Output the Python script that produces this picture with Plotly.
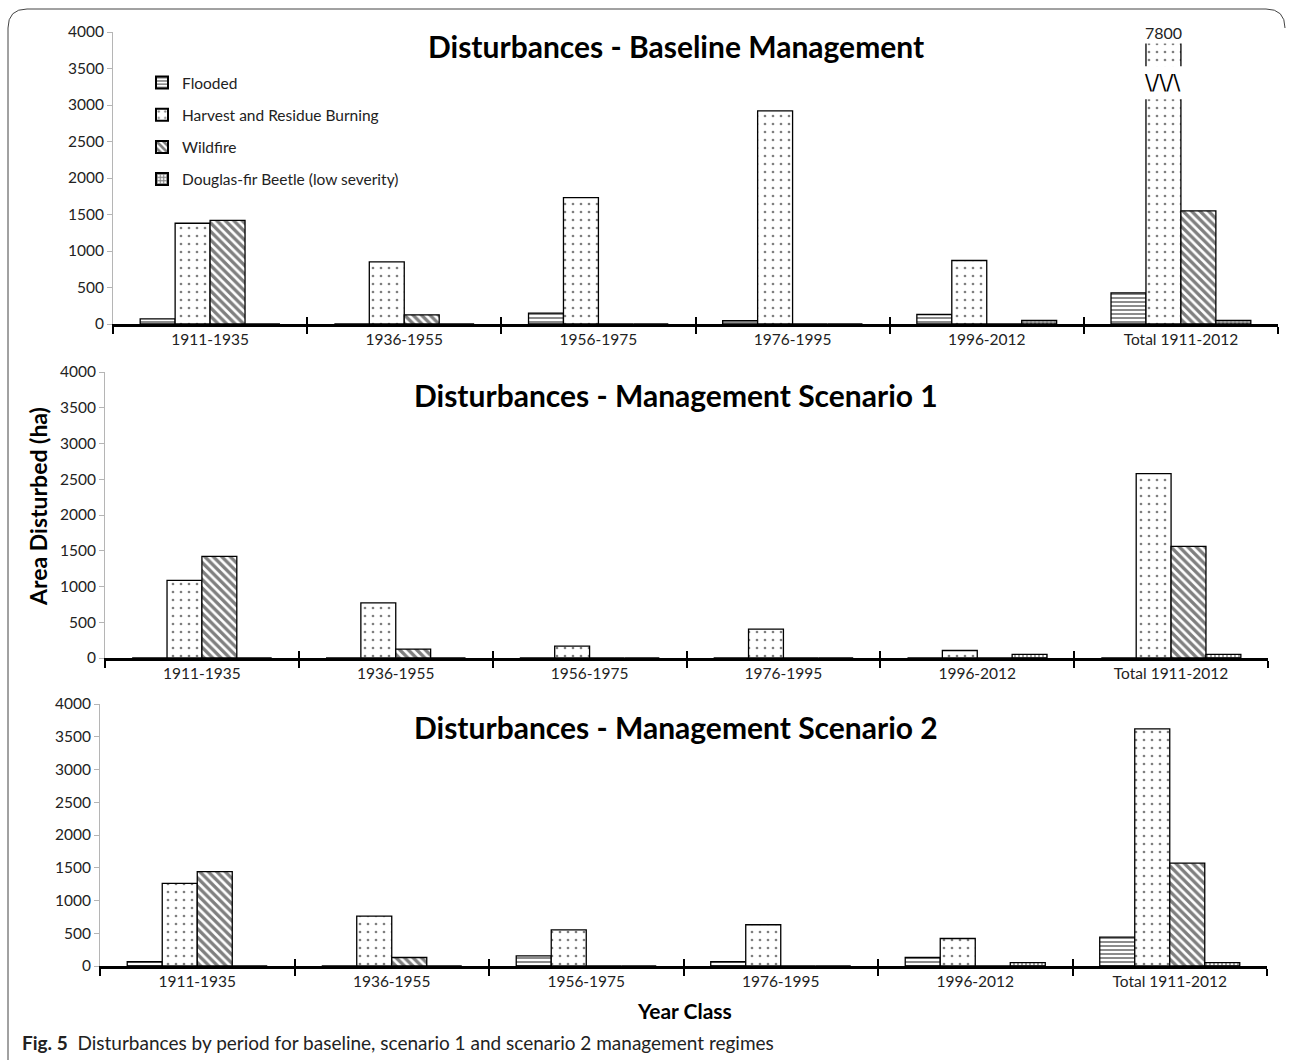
import plotly.graph_objects as go

W, H = 1292, 1063

categories = ["1911-1935", "1936-1955", "1956-1975", "1976-1995", "1996-2012", "Total 1911-2012"]
series_names = ["Flooded", "Harvest and Residue Burning", "Wildfire", "Douglas-fir Beetle (low severity)"]

# Baseline management
base_flooded = [70, 0, 150, 45, 130, 425]
base_harvest = [1380, 850, 1730, 2920, 870, 7800]
base_wildfire = [1420, 125, 0, 0, 0, 1550]
base_beetle = [0, 0, 0, 0, 50, 50]

# Management scenario 1
s1_flooded = [0, 0, 0, 0, 0, 0]
s1_harvest = [1085, 770, 165, 405, 105, 2580]
s1_wildfire = [1420, 125, 0, 0, 0, 1560]
s1_beetle = [0, 0, 0, 0, 50, 50]

# Management scenario 2
s2_flooded = [65, 0, 155, 65, 130, 440]
s2_harvest = [1260, 760, 550, 630, 420, 3620]
s2_wildfire = [1440, 130, 0, 0, 0, 1570]
s2_beetle = [0, 0, 0, 0, 50, 50]

panel_titles = ["Disturbances - Baseline Management",
                "Disturbances - Management Scenario 1",
                "Disturbances - Management Scenario 2"]
y_ticks = [0, 500, 1000, 1500, 2000, 2500, 3000, 3500, 4000]
break_label = "7800"

patterns = [dict(shape="-", size=4, solidity=0.45),
            dict(shape=".", size=8, solidity=0.09),
            dict(shape="\\", size=6, solidity=0.55),
            dict(shape="+", size=4, solidity=0.6)]

def px(x):
    return x / W

def py(y):
    return 1 - y / H

# panel geometry in pixels: (x0, x1, ytop(4000), ybottom(0))
panels = [(113, 1278, 32, 324), (105, 1268, 372, 658), (100, 1267, 704, 966)]
data = [
    [base_flooded, base_harvest, base_wildfire, base_beetle],
    [s1_flooded, s1_harvest, s1_wildfire, s1_beetle],
    [s2_flooded, s2_harvest, s2_wildfire, s2_beetle],
]

FONT = "Lato"
fig = go.Figure()
BARGAP = 0.28

for p, (vals, geo) in enumerate(zip(data, panels)):
    xa = "x" if p == 0 else f"x{p+1}"
    ya = "y" if p == 0 else f"y{p+1}"
    for s, name in enumerate(series_names):
        fig.add_trace(go.Bar(
            x=categories, y=vals[s], name=name, xaxis=xa, yaxis=ya,
            showlegend=(p == 0), legendgroup=f"g{s}",
            marker=dict(color="white", line=dict(color="black", width=1.3),
                        pattern=dict(fgcolor="black", bgcolor="white", **patterns[s])),
        ))
    x0, x1, yt, yb = geo
    key = "" if p == 0 else str(p + 1)
    fig.layout["xaxis" + key] = dict(
        domain=[px(x0), px(x1)], anchor=ya, type="category", automargin=False,
        showline=True, linecolor="black", linewidth=2.5,
        ticks="outside", tickson="boundaries", ticklen=7, tickwidth=2, tickcolor="black",
        tickfont=dict(family=FONT, size=15.5, color="#222"), showgrid=False, zeroline=False,
    )
    fig.layout["yaxis" + key] = dict(
        domain=[py(yb), py(yt)], anchor=xa, range=[0, 4000], tickvals=y_ticks, automargin=False,
        showline=True, linecolor="#b5b5b5", linewidth=1, ticks="outside", ticklen=5,
        tickcolor="#b5b5b5", tickfont=dict(family=FONT, size=15.5, color="#222"),
        showgrid=False, zeroline=False,
    )
    # inner half of crossing ticks via overlay axis
    okey = str(p + 4)
    fig.layout["xaxis" + okey] = dict(
        domain=[px(x0), px(x1)], anchor=ya, overlaying=xa, type="category", automargin=False,
        categoryarray=categories, categoryorder="array", range=[-0.5, 5.5],
        ticks="inside", tickson="boundaries", ticklen=7, tickwidth=2, tickcolor="black",
        showticklabels=False, showline=False, showgrid=False, zeroline=False,
    )
    fig.add_trace(go.Scatter(x=categories, y=[None]*6, xaxis="x" + okey, yaxis=ya,
                             showlegend=False, hoverinfo="skip"))
    fig.add_annotation(text=f"<b>{panel_titles[p]}</b>", xref="paper", yref="paper",
                       x=px(676), y=py(yt + 14 if p == 0 else yt + 23), xanchor="center", yanchor="middle",
                       showarrow=False, font=dict(family=FONT, size=30, color="black"))

# axis break on baseline total harvest bar
half = (1 - BARGAP) / 4
bx0 = 5 - half
bx1 = 5
fig.add_shape(type="rect", xref="x", yref="y", x0=bx0 - 0.01, x1=bx1 + 0.01, y0=3080, y1=3530,
              fillcolor="white", line=dict(width=0), layer="above")
fig.add_annotation(text="\\/\\/\\", xref="x", yref="y", x=(bx0 + bx1) / 2, y=3300,
                   yanchor="middle", showarrow=False, font=dict(family="DejaVu Sans", size=21, color="black"))
fig.add_annotation(text=break_label, xref="x", yref="y", x=(bx0 + bx1) / 2, y=4000,
                   yanchor="middle", showarrow=False, bgcolor="white",
                   font=dict(family=FONT, size=16, color="#222"))

# axis titles and caption
fig.add_annotation(text="<b>Area Disturbed (ha)</b>", xref="paper", yref="paper",
                   x=px(22), y=py(507), textangle=-90, showarrow=False, yanchor="middle",
                   font=dict(family=FONT, size=23, color="black"))
fig.add_annotation(text="<b>Year Class</b>", xref="paper", yref="paper",
                   x=px(684), y=py(1010), showarrow=False, yanchor="middle",
                   font=dict(family=FONT, size=21, color="black"))
fig.add_annotation(text="<b>Fig. 5</b>  Disturbances by period for baseline, scenario 1 and scenario 2 management regimes",
                   xref="paper", yref="paper", x=px(20), y=py(1042), xanchor="left", yanchor="middle",
                   showarrow=False, font=dict(family=FONT, size=19, color="#222"))

# frame
fig.add_shape(type="path", xref="paper", yref="paper",
              path=f"M {px(1285)},{py(28)} Q {px(1285)},{py(9)} {px(1266)},{py(9)} "
                   f"L {px(27)},{py(9)} Q {px(8)},{py(9)} {px(8)},{py(28)} L {px(8)},{py(1060)}",
              line=dict(color="#444", width=1))

fig.update_layout(
    width=W, height=H, margin=dict(l=0, r=0, t=0, b=0, autoexpand=False),
    barmode="group", bargap=BARGAP, bargroupgap=0,
    paper_bgcolor="white", plot_bgcolor="white",
    legend=dict(x=px(142), y=py(66), xanchor="left", yanchor="top",
                font=dict(family=FONT, size=15.5, color="#222"), tracegroupgap=9,
                itemsizing="constant", bgcolor="rgba(0,0,0,0)"),
    font=dict(family=FONT),
)

fig.write_html("out.html", config={"displayModeBar": False},
               post_script="document.body.style.margin='0';")
